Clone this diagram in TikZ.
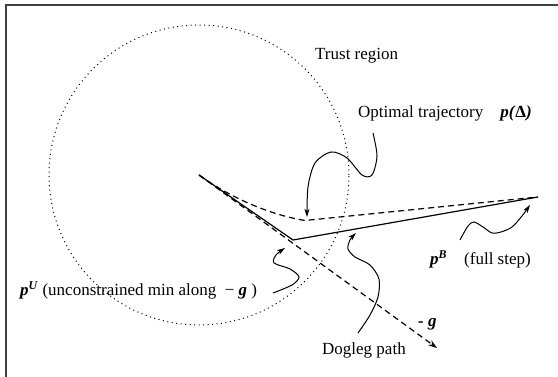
\documentclass[tikz,border=0pt]{standalone}
\usepackage{fontspec}
\setmainfont{Liberation Serif}
\usetikzlibrary{arrows.meta,positioning,calc}
\tikzset{
  lbl/.style    ={inner sep=0pt,anchor=base west,font=\fontsize{17}{20}\selectfont},
  frameline/.style={line width=2pt,black!75},
  region/.style ={line width=1pt,dash pattern=on 1pt off 3.5pt},
  legline/.style={line width=1.2pt},
  dashline/.style={line width=1.2pt,dash pattern=on 6pt off 4pt},
  wiggle/.style ={line width=1pt,-{Stealth[length=8pt,width=5pt,inset=2pt]}},
}
\newcommand{\bi}[1]{\textbf{\textit{#1}}}

\begin{document}
\begin{tikzpicture}[x=1pt,y=1pt]
  \useasboundingbox (0,0) rectangle (558,377);
  \draw[frameline] (6,0) -- (6,372) -- (558,372);

  % points of the step
  \coordinate (xk)     at (199,202);
  \coordinate (corner) at (293,137);
  \coordinate (pBend)  at (538,180);
  \coordinate (gtip)   at (437,29);

  % trust region
  \draw[region] (xk) circle[radius=150];

  % paths
  \draw[dashline] (xk) .. controls (225,183) and (265,163) .. (305,156.5) -- (pBend);
  \draw[dashline,-{Stealth[length=9pt,width=6pt,inset=3pt]}] (xk) -- (gtip);
  \draw[legline] (xk) -- (corner) -- (pBend);

  % labels
  \node[lbl] (trust)  at (315,317) {Trust region};
  \node[lbl] (opt)    at (358,259) {Optimal trajectory\quad \bi{p(}\textbf{Δ}\bi{)}};
  \node[lbl] (dogleg) at (322,22)  {Dogleg path};
  \node[lbl] (gneg)   at (418,50)  {\bi{- g}};
  \node[lbl] (pB)     at (430,112) {\bi{p}\textsuperscript{\bi{B}}};
  \node[lbl] (full)   at (464,112) {(full step)};
  \node[lbl] (pU)     at (20,81)   {\bi{p}\textsuperscript{\bi{U}} (unconstrained min along\ \ − \bi{g}\ )};

  % pointers
  \draw[wiggle] plot[smooth] coordinates {(373,244) (377,221) (372,202) (362,202) (347,219) (331,225) (315,214) (308,190) (307,160)};
  \draw[wiggle] plot[smooth] coordinates {(358,44) (370,62) (378,80) (379,98) (370,112) (355,120) (348,128) (350,137) (356,144)};
  \draw[wiggle] plot[smooth] coordinates {(273,84) (292,92) (299,100) (290,108) (274,114) (276,122) (285,129)};
  \draw[wiggle] plot[smooth] coordinates {(460,137) (468,151) (474,155) (483,150) (492,144) (501,145) (512,150) (522,161) (530,172)};
\end{tikzpicture}
\end{document}
